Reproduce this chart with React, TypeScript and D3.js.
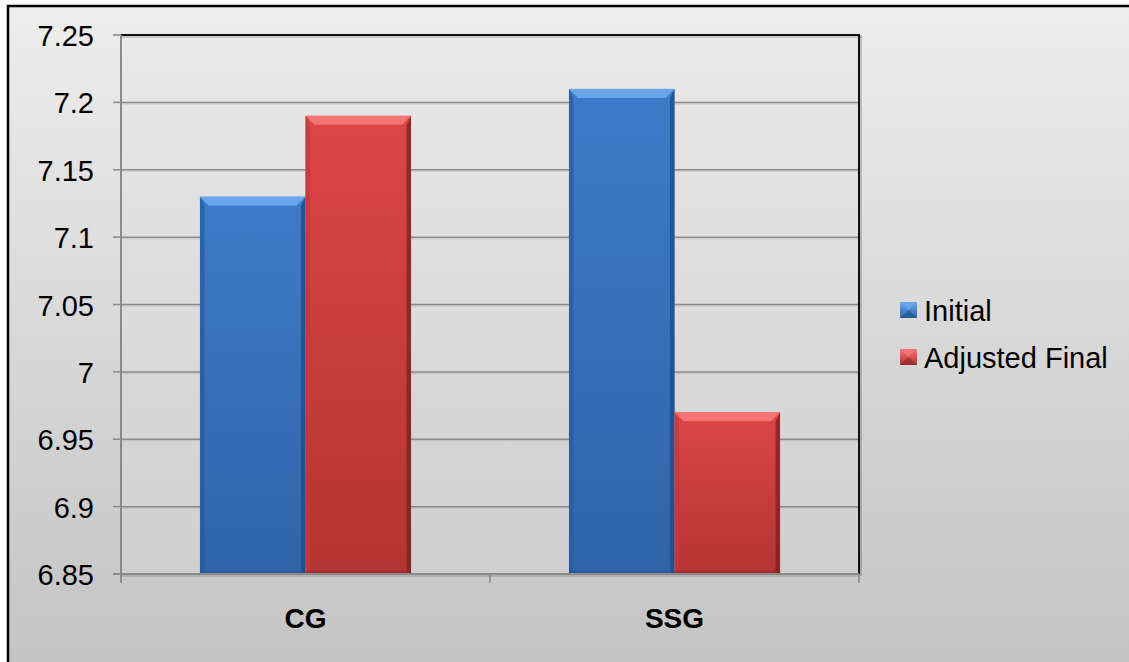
import * as d3 from 'd3';
import React from 'react';

const categories = ["CG", "SSG"];
const seriesNames = ["Initial", "Adjusted Final"];
const initialValues = [7.13, 7.21];
const adjustedValues = [7.19, 6.97];
const yTicks = [6.85, 6.9, 6.95, 7, 7.05, 7.1, 7.15, 7.2, 7.25];

const W = 1129;
const H = 662;
const plot = { left: 121, right: 859, top: 35, bottom: 574 };
const font = "'Liberation Sans', Arial, sans-serif";

const palette = [
  { top: "#6aa6ee", body0: "#3d7bc8", body1: "#2f64a8", side: "#2a5a9a", dark: "#1f4a85" },
  { top: "#f57474", body0: "#dc4646", body1: "#b33434", side: "#c03b3b", dark: "#7e1f1f" },
];

function Bar(props: any): any {
  const { x, y, w, h, c } = props;
  const b = Math.min(9, h / 2);
  const x1 = x + w;
  const y1 = y + h;
  return (
    <g>
      <rect x={x} y={y} width={w} height={h} fill={`url(#body${props.i})`} />
      <polygon points={`${x},${y} ${x1},${y} ${x1 - b},${y + b} ${x + b},${y + b}`} fill={c.top} />
      <polygon points={`${x},${y} ${x + b / 2},${y + b} ${x + b / 2},${y1 - 3} ${x},${y1}`} fill={c.side} opacity={0.7} />
      <polygon points={`${x1},${y} ${x1 - b / 2},${y + b} ${x1 - b / 2},${y1 - 3} ${x1},${y1}`} fill={c.dark} opacity={0.75} />
      <rect x={x} y={y1 - 3} width={w} height={3} fill={c.dark} opacity={0.35} />
    </g>
  );
}

function App(): any {
  const y = d3.scaleLinear().domain([6.85, 7.25]).range([plot.bottom, plot.top]);
  const x0 = d3.scaleBand().domain(categories).range([plot.left, plot.right]).paddingInner(0.428).paddingOuter(0.214);
  const x1 = d3.scaleBand().domain(seriesNames).range([0, x0.bandwidth()]);
  const series = [initialValues, adjustedValues];

  return (
    <svg width={W} height={H} style={{ position: "absolute", left: 0, top: 0 }} fontFamily={font}>
      <defs>
        <linearGradient id="outerBg" x1="0" y1="0" x2="0" y2="1">
          <stop offset="0" stopColor="#ededed" />
          <stop offset="1" stopColor="#c3c3c3" />
        </linearGradient>
        <linearGradient id="plotBg" x1="0" y1="0" x2="0" y2="1">
          <stop offset="0" stopColor="#e9e9e9" />
          <stop offset="1" stopColor="#cfcfcf" />
        </linearGradient>
        {palette.map((c, i) => (
          <linearGradient key={i} id={`body${i}`} x1="0" y1="0" x2="0" y2="1">
            <stop offset="0" stopColor={c.body0} />
            <stop offset="1" stopColor={c.body1} />
          </linearGradient>
        ))}
        {palette.map((c, i) => (
          <linearGradient key={i} id={`sw${i}`} x1="0" y1="0" x2="0" y2="1">
            <stop offset="0" stopColor={c.top} />
            <stop offset="1" stopColor={c.body1} />
          </linearGradient>
        ))}
      </defs>
      <rect x={0} y={0} width={W} height={H} fill="#ffffff" />
      <rect x={8} y={6} width={W + 10} height={H + 10} fill="url(#outerBg)" stroke="#000" strokeWidth={2.5} />

      <rect x={plot.left} y={plot.top} width={plot.right - plot.left} height={plot.bottom - plot.top} fill="url(#plotBg)" />

      {yTicks.slice(1, -1).map((t) => (
        <g key={t}>
          <line x1={plot.left} x2={plot.right} y1={y(t) + 1.5} y2={y(t) + 1.5} stroke="#000" strokeOpacity={0.08} strokeWidth={1.5} />
          <line x1={plot.left} x2={plot.right} y1={y(t)} y2={y(t)} stroke="#8a8a8a" strokeWidth={1.5} />
        </g>
      ))}

      {categories.map((cat, ci) => (
        <g key={cat}>
          {series.map((vals, si) => {
            const bx = (x0(cat) || 0) + (x1(seriesNames[si]) || 0);
            const by = y(vals[ci]);
            return <Bar key={si} i={si} c={palette[si]} x={bx} y={by} w={x1.bandwidth()} h={plot.bottom - by} />;
          })}
        </g>
      ))}

      {/* frame top/right */}
      <line x1={plot.left} x2={plot.right + 3} y1={plot.top + 2} y2={plot.top + 2} stroke="#000" strokeOpacity={0.15} strokeWidth={2} />
      <line x1={plot.right + 2} x2={plot.right + 2} y1={plot.top} y2={plot.bottom + 2} stroke="#000" strokeOpacity={0.18} strokeWidth={2} />
      <line x1={plot.left} x2={plot.right} y1={plot.top} y2={plot.top} stroke="#111" strokeWidth={2} />
      <line x1={plot.right} x2={plot.right} y1={plot.top - 1} y2={plot.bottom} stroke="#111" strokeWidth={2} />

      {/* left axis */}
      <line x1={plot.left} x2={plot.left} y1={plot.top} y2={plot.bottom + 8} stroke="#8a8a8a" strokeWidth={2} />
      {yTicks.map((t) => (
        <g key={t}>
          <line x1={plot.left - 8} x2={plot.left} y1={y(t)} y2={y(t)} stroke="#8a8a8a" strokeWidth={1.5} />
          <text x={94} y={y(t) + 11} textAnchor="end" fontSize={29} fill="#000">{d3.format("")(t)}</text>
        </g>
      ))}

      {/* bottom axis */}
      <line x1={plot.left} x2={plot.right} y1={plot.bottom + 2} y2={plot.bottom + 2} stroke="#000" strokeOpacity={0.12} strokeWidth={2} />
      <line x1={plot.left - 8} x2={plot.right} y1={plot.bottom} y2={plot.bottom} stroke="#8a8a8a" strokeWidth={2} />
      {[plot.left, (plot.left + plot.right) / 2, plot.right].map((tx, i) => (
        <line key={i} x1={tx} x2={tx} y1={plot.bottom} y2={plot.bottom + 9} stroke="#8a8a8a" strokeWidth={1.5} />
      ))}
      {categories.map((cat) => (
        <text key={cat} x={(x0(cat) || 0) + x0.bandwidth() / 2} y={628} textAnchor="middle" fontSize={28} fontWeight="bold" fill="#000">{cat}</text>
      ))}

      {/* legend */}
      {seriesNames.map((s, i) => (
        <g key={s} transform={`translate(900, ${302 + i * 47})`}>
          <rect x={0} y={0} width={17} height={16} fill={`url(#sw${i})`} />
          <polygon points="0,0 17,0 8.5,8" fill={palette[i].top} opacity={0.8} />
          <polygon points="0,16 17,16 8.5,8" fill={palette[i].dark} opacity={0.5} />
          <text x={24} y={19} fontSize={29} fill="#000">{s}</text>
        </g>
      ))}
    </svg>
  );
}

export default App;
